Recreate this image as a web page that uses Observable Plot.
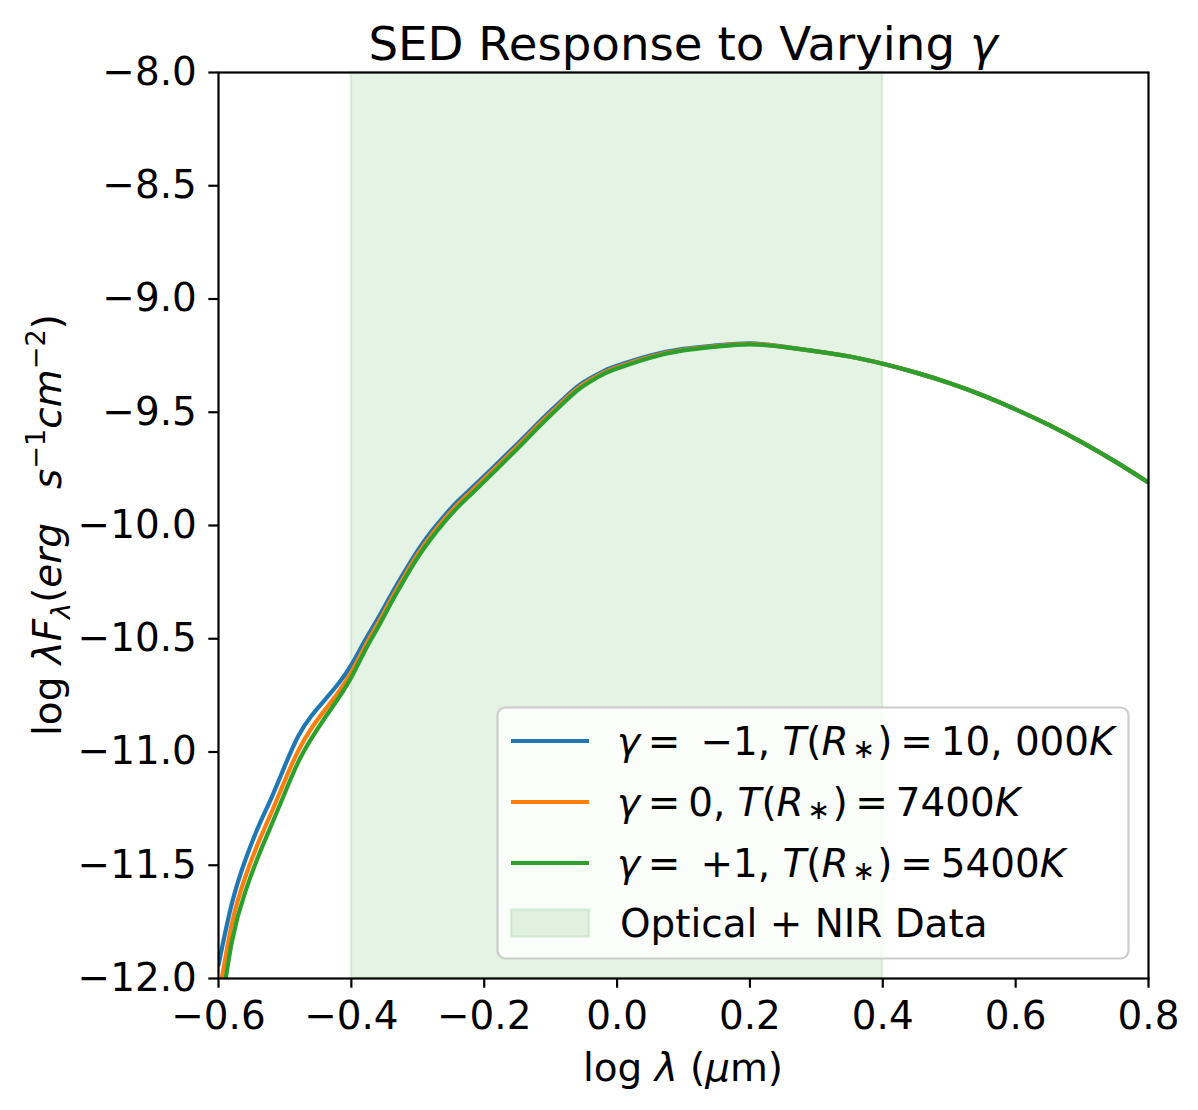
<!DOCTYPE html>
<html>
<head>
<meta charset="utf-8">
<script src="https://cdn.jsdelivr.net/npm/d3@7"></script>
<script src="https://cdn.jsdelivr.net/npm/@observablehq/plot@0.6"></script>
<style>
  html, body { margin: 0; padding: 0; background: #fff; }
  #chart svg { display: block; }
</style>
</head>
<body>
<div id="chart"></div>
<script>
// ---- data ----
const logLambda = [-0.60,-0.58,-0.56,-0.54,-0.52,-0.50,-0.48,-0.46,-0.44,-0.42,-0.40,-0.38,-0.36,-0.34,-0.32,-0.30,-0.28,-0.26,-0.24,-0.22,-0.20,-0.18,-0.16,-0.14,-0.12,-0.10,-0.08,-0.06,-0.04,-0.02,0.00,0.05,0.10,0.15,0.20,0.25,0.30,0.35,0.40,0.45,0.50,0.55,0.60,0.65,0.70,0.75,0.80];
const gammaMinus1 = [-11.94,-11.67,-11.48,-11.33,-11.20,-11.06,-10.93,-10.84,-10.77,-10.70,-10.615,-10.51,-10.41,-10.305,-10.205,-10.11,-10.028,-9.957,-9.893,-9.838,-9.782,-9.725,-9.668,-9.610,-9.551,-9.494,-9.439,-9.387,-9.349,-9.318,-9.295,-9.25,-9.22,-9.205,-9.196,-9.21,-9.231,-9.254,-9.286,-9.325,-9.371,-9.425,-9.487,-9.556,-9.633,-9.718,-9.810];
const gammaZero = [-12.09,-11.76,-11.555,-11.40,-11.265,-11.125,-10.995,-10.895,-10.815,-10.738,-10.647,-10.536,-10.432,-10.325,-10.223,-10.127,-10.044,-9.972,-9.907,-9.851,-9.794,-9.737,-9.679,-9.621,-9.561,-9.504,-9.448,-9.396,-9.357,-9.325,-9.301,-9.255,-9.224,-9.208,-9.198,-9.211,-9.231,-9.254,-9.286,-9.325,-9.371,-9.425,-9.487,-9.556,-9.633,-9.718,-9.810];
const gammaPlus1 = [-12.22,-11.84,-11.62,-11.46,-11.32,-11.18,-11.045,-10.94,-10.85,-10.765,-10.67,-10.555,-10.45,-10.341,-10.238,-10.141,-10.058,-9.985,-9.920,-9.863,-9.806,-9.748,-9.690,-9.631,-9.571,-9.513,-9.457,-9.404,-9.364,-9.331,-9.307,-9.259,-9.227,-9.21,-9.20,-9.212,-9.231,-9.254,-9.286,-9.325,-9.371,-9.425,-9.487,-9.556,-9.633,-9.718,-9.810];
const seriesNames = ["gamma -1", "gamma 0", "gamma +1"];
const seriesColors = ["#1f77b4", "#ff7f0e", "#2ca02c"];
const bandRange = [-0.4, 0.4];
const bandLabel = "Optical + NIR Data";
const xTicks = [-0.6, -0.4, -0.2, 0.0, 0.2, 0.4, 0.6, 0.8];
const yTicks = [-12.0, -11.5, -11.0, -10.5, -10.0, -9.5, -9.0, -8.5, -8.0];

// ---- build table ----
const seriesValues = [gammaMinus1, gammaZero, gammaPlus1];
const rows = [];
seriesValues.forEach((ys, i) => ys.forEach((y, j) => rows.push({x: logLambda[j], y, s: seriesNames[i]})));
const band = [{x1: bandRange[0], x2: bandRange[1]}];

const W = 1198, H = 1110;
const mL = 218, mR = 50, mT = 72, mB = 132;
const FS = 38.9;
const fmt = d3.format(".1f");

const plot = Plot.plot({
  width: W, height: H,
  marginLeft: mL, marginRight: mR, marginTop: mT, marginBottom: mB,
  style: {fontFamily: "DejaVu Sans", fontSize: FS + "px", color: "black", background: "white"},
  x: {domain: [-0.6, 0.8], label: null},
  y: {domain: [-12, -8], label: null},
  color: {domain: seriesNames, range: seriesColors},
  marks: [
    Plot.rect(band, {x1: "x1", x2: "x2", fill: "#2ca02c", fillOpacity: 0.12, stroke: "#2ca02c", strokeOpacity: 0.12, strokeWidth: 2.5}),
    Plot.line(rows, {x: "x", y: "y", z: "s", stroke: "s", strokeWidth: 4.2, curve: "natural", clip: true}),
    Plot.axisX({ticks: xTicks, tickFormat: fmt, tickSize: 9.7, tickPadding: 13, strokeWidth: 2.2, fontSize: FS, label: null}),
    Plot.axisY({ticks: yTicks, tickFormat: fmt, tickSize: 9.7, tickPadding: 12, strokeWidth: 2.2, fontSize: FS, label: null}),
    Plot.frame({stroke: "black", strokeWidth: 2.2})
  ]
});
document.getElementById("chart").appendChild(plot);

// ---- text helpers ----
const svg = d3.select(plot);
function richText(parent, parts, size) {
  let shift = 0;
  parts.forEach(p => {
    const [t, o = {}] = Array.isArray(p) ? p : [p, {}];
    const ts = parent.append("tspan").text(t);
    let target = 0, fs = size;
    if (o.sub) { target = (o.subShift ?? 0.22) * size; fs = 0.7 * size; }
    if (o.sup) { target = -0.42 * size; fs = 0.7 * size; }
    ts.attr("dy", target - shift);
    shift = target;
    ts.style("font-size", fs + "px");
    if (o.italic) ts.style("font-style", "italic");
    if (o.dx) ts.attr("dx", o.dx);
  });
  return parent;
}
function addText(x, y, parts, size, anchor = "start", rotate = 0) {
  const t = svg.append("text")
    .attr("x", x).attr("y", y)
    .attr("text-anchor", anchor)
    .attr("fill", "black")
    .style("font-family", "DejaVu Sans")
    .style("font-size", size + "px")
    .attr("xml:space", "preserve");
  if (rotate) t.attr("transform", `rotate(${rotate},${x},${y})`);
  richText(t, parts, size);
  return t;
}

const cx = mL + (W - mL - mR) / 2;
// title
addText(cx, 60, ["SED Response to Varying ", ["γ", {italic: true}]], 46.7, "middle");
// x label
addText(cx, 1081, ["log ", ["λ", {italic: true}], " (", ["μ", {italic: true}], "m)"], FS, "middle");
// y label
addText(61, mT + (H - mT - mB) / 2, [
  "log ", ["λF", {italic: true}], ["λ", {italic: true, sub: true}], ["(", {}], ["erg", {italic: true}],
  ["s", {italic: true, dx: 34}], ["−1", {sup: true}], ["cm", {italic: true}], ["−2", {sup: true}], [")", {}]
], FS, "middle", -90);

// ---- legend ----
const lg = svg.append("g");
const lx0 = 497.5, lx1 = 1128.5, ly0 = 707.5, ly1 = 958.5;
lg.append("rect").attr("x", lx0).attr("y", ly0).attr("width", lx1 - lx0).attr("height", ly1 - ly0)
  .attr("rx", 8).attr("fill", "white").attr("fill-opacity", 0.8).attr("stroke", "#cccccc").attr("stroke-width", 2.2);
const hx0 = 511, hx1 = 589, tx = 617;
const rowY = [741, 802, 863, 923];
const star = ["∗", {sub: true, subShift: 0.08, dx: 4}];
const eq = "\u2009=\u2009";
const labels = [
  [["γ", {italic: true}], eq + " −1, ", ["T", {italic: true}], "(", ["R", {italic: true}], star, [")", {dx: 2}], eq + "10, 000", ["K", {italic: true}]],
  [["γ", {italic: true}], eq + "0, ", ["T", {italic: true}], "(", ["R", {italic: true}], star, [")", {dx: 2}], eq + "7400", ["K", {italic: true}]],
  [["γ", {italic: true}], eq + " +1, ", ["T", {italic: true}], "(", ["R", {italic: true}], star, [")", {dx: 2}], eq + "5400", ["K", {italic: true}]]
];
labels.forEach((parts, i) => {
  lg.append("line").attr("x1", hx0).attr("x2", hx1).attr("y1", rowY[i]).attr("y2", rowY[i])
    .attr("stroke", seriesColors[i]).attr("stroke-width", 4.2);
  addText(tx, rowY[i] + 14, parts, FS);
});
lg.append("rect").attr("x", hx0).attr("y", rowY[3] - 13.6).attr("width", hx1 - hx0).attr("height", 27.2)
  .attr("fill", "#2ca02c").attr("fill-opacity", 0.12).attr("stroke", "#2ca02c").attr("stroke-opacity", 0.12).attr("stroke-width", 2.5);
addText(tx + 3, rowY[3] + 14, [bandLabel], FS);
</script>
</body>
</html>
